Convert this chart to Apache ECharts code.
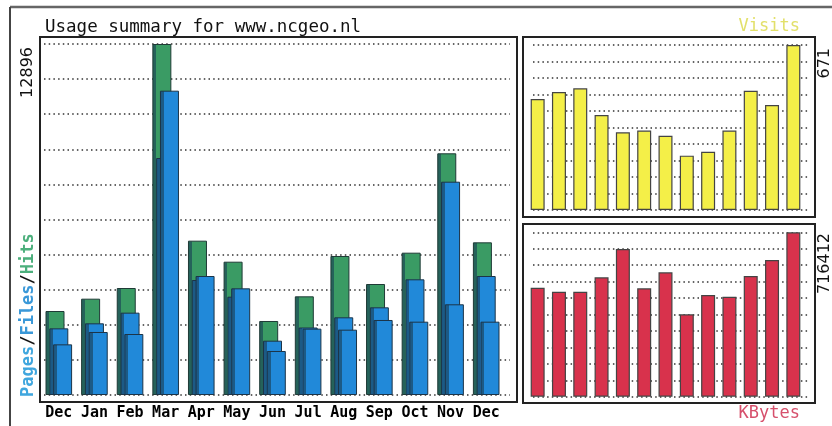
<!DOCTYPE html>
<html>
<head>
<meta charset="utf-8">
<script src="https://cdn.jsdelivr.net/npm/echarts@6/dist/echarts.min.js"></script>
<style>html,body{margin:0;padding:0;background:#fff}#c{width:832px;height:426px}</style>
</head>
<body>
<div id="c"></div>
<script>
const months = ['Dec','Jan','Feb','Mar','Apr','May','Jun','Jul','Aug','Sep','Oct','Nov','Dec'];
const hits   = [3086, 3539, 3931, 12896, 5670, 4898, 2719, 3625, 5107, 4078, 5229, 8880, 5609];
const files  = [2449, 2633, 3025, 8707, 4225, 3612, 1996, 2480, 2854, 3221, 4250, 7837, 4372];
const pages  = [1861, 2315, 2241, 11181, 4372, 3919, 1617, 2437, 2400, 2756, 2694, 3332, 2694];
const visits = [451, 480, 495, 386, 316, 323, 302, 221, 237, 323, 485, 427, 671];
const kbytes = [475000, 457600, 457600, 520300, 643600, 472400, 542100, 359000, 443200, 435800, 526000, 595700, 716412];
const maxLabels = ['12896', '671', '716412'];
const titleText = 'Usage summary for www.ncgeo.nl';

const chart = echarts.init(document.getElementById('c'));
const mono = "'DejaVu Sans Mono', monospace";
const sans = "'DejaVu Sans', sans-serif";

function grad(dark, col) {
  return {type:'linear', x:0, y:0, x2:1, y2:0, colorStops:[
    {offset:0, color:dark},{offset:0.2, color:dark},{offset:0.2, color:col},{offset:1, color:col}]};
}
const hidden = {show:false};
function barX(idx, showLabels) {
  return {type:'category', gridIndex:idx, data:months, boundaryGap:true,
    axisLine:hidden, axisTick:hidden, splitLine:hidden,
    axisLabel: showLabels ? {show:true, interval:0, margin:11, color:'#000', fontFamily:mono, fontSize:15, fontWeight:'bold'} : hidden};
}
function barY(idx, max) {
  return {type:'value', gridIndex:idx, min:0, max:max, axisLine:hidden, axisTick:hidden, axisLabel:hidden, splitLine:hidden};
}
function lineX(idx) {
  return {type:'value', gridIndex:idx, min:0, max:1, show:false};
}
function lineY(idx) {
  return {type:'value', gridIndex:idx, min:0, max:10, interval:1, axisLine:hidden, axisTick:hidden, axisLabel:hidden,
    splitLine:{show:true, lineStyle:{color:'#333', width:1.5, type:[1.5,3.2]}}};
}

const option = {
  backgroundColor:'#ffffff',
  animation:false,
  title:{text:titleText, left:45, top:18, padding:0,
    textStyle:{fontFamily:mono, fontSize:17.5, fontWeight:'normal', color:'#111'}},
  grid:[
    {left:41, top:44, width:463, height:351},
    {left:44, top:44, width:466, height:351},
    {left:527, top:45, width:277, height:165},
    {left:533, top:45, width:275, height:165},
    {left:527, top:232.3, width:277, height:164.4},
    {left:533, top:232.3, width:275, height:164.4}
  ],
  xAxis:[barX(0,true), lineX(1), barX(2,false), lineX(3), barX(4,false), lineX(5)],
  yAxis:[barY(0, Math.max(...hits)), lineY(1), barY(2, Math.max(...visits)), lineY(3), barY(4, Math.max(...kbytes)), lineY(5)],
  series:[
    {name:'Hits', type:'bar', xAxisIndex:0, yAxisIndex:0, data:hits, barWidth:19, barGap:'-80%',
      itemStyle:{color:grad('#25625a','#3a9b64'), borderColor:'#1f3a36', borderWidth:1}},
    {name:'Files', type:'bar', xAxisIndex:0, yAxisIndex:0, data:files, barWidth:19, barGap:'-80%',
      itemStyle:{color:grad('#1c5a86','#2189d9'), borderColor:'#1c3448', borderWidth:1}},
    {name:'Pages', type:'bar', xAxisIndex:0, yAxisIndex:0, data:pages, barWidth:19, barGap:'-80%',
      itemStyle:{color:grad('#1c5a86','#2189d9'), borderColor:'#1c3448', borderWidth:1}},
    {name:'Visits', type:'bar', xAxisIndex:2, yAxisIndex:2, data:visits, barWidth:14,
      itemStyle:{color:'#f4ef48', borderColor:'#444', borderWidth:1.2}},
    {name:'KBytes', type:'bar', xAxisIndex:4, yAxisIndex:4, data:kbytes, barWidth:14,
      itemStyle:{color:'#d8324c', borderColor:'#444', borderWidth:1.2}}
  ],
  graphic:[
    {type:'line', z:20, shape:{x1:10, y1:7, x2:832, y2:7}, style:{stroke:'#666', lineWidth:2.5}},
    {type:'line', z:20, shape:{x1:10, y1:7, x2:10, y2:426}, style:{stroke:'#444', lineWidth:2}},
    {type:'rect', z:20, shape:{x:40, y:37, width:477, height:365}, style:{fill:'none', stroke:'#222', lineWidth:2}},
    {type:'rect', z:20, shape:{x:523, y:37, width:292, height:180}, style:{fill:'none', stroke:'#222', lineWidth:2}},
    {type:'rect', z:20, shape:{x:523, y:224, width:292, height:179}, style:{fill:'none', stroke:'#222', lineWidth:2}},
    {type:'text', z:20, x:27.5, y:47, rotation:Math.PI/2,
      style:{text:maxLabels[0], font:'16px ' + sans, fill:'#111', align:'right', verticalAlign:'middle'}},
    {type:'text', z:20, x:825, y:48, rotation:Math.PI/2,
      style:{text:maxLabels[1], font:'16px ' + sans, fill:'#111', align:'right', verticalAlign:'middle'}},
    {type:'text', z:20, x:825, y:233, rotation:Math.PI/2,
      style:{text:maxLabels[2], font:'16px ' + sans, fill:'#111', align:'right', verticalAlign:'middle'}},
    {type:'text', z:20, x:29, y:397, rotation:Math.PI/2,
      style:{text:'{p|Pages}{s|/}{f|Files}{s|/}{h|Hits}', align:'left', verticalAlign:'middle',
        font:'bold 17px ' + mono,
        rich:{
          p:{fill:'#3fa6de', font:'bold 17px ' + mono},
          f:{fill:'#3a98d8', font:'bold 17px ' + mono},
          h:{fill:'#4caf7c', font:'bold 17px ' + mono},
          s:{fill:'#111', font:'bold 17px ' + mono}
        }}},
    {type:'text', z:20, x:800, y:27, style:{text:'Visits', font:'17px ' + mono, fill:'#e2e06a', align:'right', verticalAlign:'middle'}},
    {type:'text', z:20, x:800, y:414, style:{text:'KBytes', font:'17px ' + mono, fill:'#d6506c', align:'right', verticalAlign:'middle'}}
  ]
};
chart.setOption(option);
</script>
</body>
</html>
